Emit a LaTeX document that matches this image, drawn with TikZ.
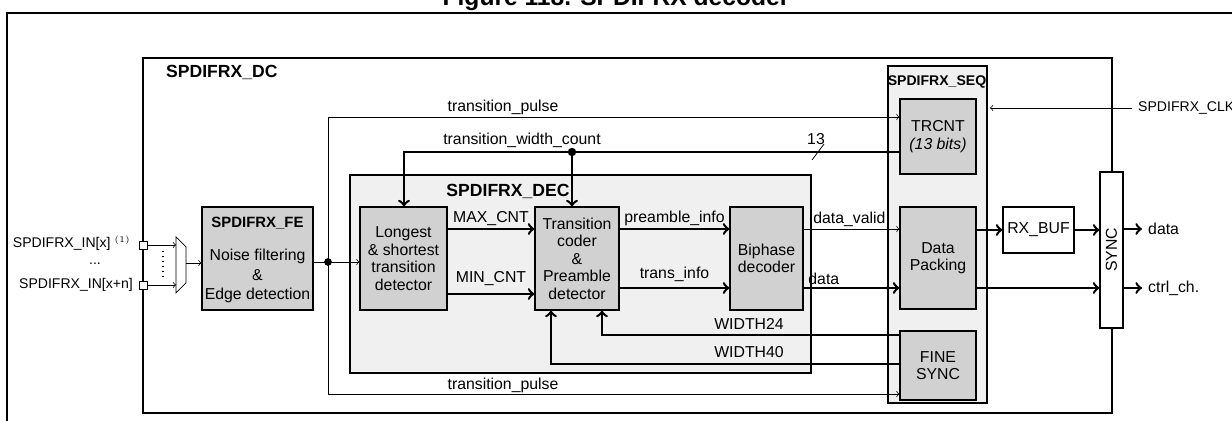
\documentclass[tikz,border=0pt]{standalone}
\usepackage{fontspec}
\setmainfont{Liberation Sans}
\usetikzlibrary{arrows,positioning,shapes}
\begin{document}
\begin{tikzpicture}[x=0.02cm,y=-0.02cm,>=to,font=\fontsize{9}{10}\selectfont,
  blk/.style={draw,fill=black!18,line width=0.6pt,inner sep=0pt,align=center},
  wire/.style={->,line width=0.4pt},
  bus/.style={->,line width=1.4pt},
  lbl/.style={inner sep=1pt}]
\useasboundingbox (0,0) rectangle (1232,421);

% title and frame
\node[font=\bfseries\fontsize{14}{16}\selectfont] at (616,-1) {Figure 118. SPDIFRX decoder};
\draw[line width=1.2pt] (7,421) -- (7,13) -- (1232,13);

% outer blocks
\draw[line width=1.2pt] (143,58) rectangle (1112,413);
\node[font=\bfseries\fontsize{10}{12}\selectfont,anchor=west] at (160,72) {SPDIFRX\_DC};
\draw[line width=1.2pt,fill=black!6] (350,175) rectangle (811,373);
\node[font=\bfseries\fontsize{10}{12}\selectfont] at (508,191) {SPDIFRX\_DEC};
\draw[line width=1.2pt,fill=black!6] (888,66) rectangle (987,403);
\node[font=\bfseries\fontsize{8}{10}\selectfont] at (937,82) {SPDIFRX\_SEQ};

% blocks
\node[blk,minimum width=111*0.02cm,minimum height=103*0.02cm] (fe) at (257.5,258.5) {};
\node[font=\bfseries\fontsize{8.5}{10}\selectfont] at (257.5,223) {SPDIFRX\_FE};
\node[align=center,font=\fontsize{9}{11}\selectfont] at (257.5,276) {Noise filtering\\\&\\Edge detection};
\coordinate (feout) at (313,262);
\node[blk,minimum width=87*0.02cm,minimum height=103*0.02cm] (lsd) at (403.5,258.5) {Longest\\\& shortest\\transition\\detector};
\node[blk,minimum width=84*0.02cm,minimum height=103*0.02cm] (tcd) at (577,258.5) {Transition\\coder\\\&\\Preamble\\detector};
\node[blk,minimum width=73*0.02cm,minimum height=103*0.02cm] (bip) at (766.5,258.5) {Biphase\\decoder};
\node[blk,minimum width=76*0.02cm,minimum height=75*0.02cm] (trc) at (938,136.5) {TRCNT\\\textit{(13 bits)}};
\node[blk,minimum width=76*0.02cm,minimum height=102*0.02cm] (pack) at (938,258) {Data\\Packing};
\node[blk,minimum width=76*0.02cm,minimum height=69*0.02cm] (fine) at (938,365.5) {FINE\\SYNC};
\node[blk,fill=white,minimum width=71*0.02cm,minimum height=46*0.02cm] (rxbuf) at (1038.5,230) {RX\_BUF};
\node[draw,fill=white,line width=0.6pt,minimum width=156*0.02cm,minimum height=23*0.02cm,rotate=90,inner sep=0pt] (sync) at (1111.5,250) {SYNC};

% inputs and mux
\node[draw,fill=white,minimum size=8*0.02cm,inner sep=0pt] (in1) at (143,245) {};
\node[draw,fill=white,minimum size=8*0.02cm,inner sep=0pt] (in2) at (143,285) {};
\node[anchor=east,font=\fontsize{8}{9}\selectfont] at (137,243) {SPDIFRX\_IN[x] $^{\scriptscriptstyle(1)}$};
\node[font=\fontsize{8}{9}\selectfont] at (95,264) {...};
\node[anchor=east,font=\fontsize{8}{9}\selectfont] at (139,285) {SPDIFRX\_IN[x+n]};
\draw (176,237) -- (186,247) -- (186,283) -- (176,293) -- cycle;
\coordinate (mux1) at (176,245); \coordinate (mux2) at (176,285);
\coordinate (muxo) at (186,263);
\draw[wire] (in1) -- (mux1);
\draw[wire] (in2) -- (mux2);
\draw[dotted,line width=0.8pt] (163,251) -- (163,279);
\draw[wire] (muxo) -- (fe.west |- muxo);

% FE to DEC, transition pulses
\fill (328,262) circle (2.2pt) coordinate (tp);
\draw[wire] (feout) -- (lsd.west |- feout);
\draw[wire] (tp) |- (trc.west |- 0,117);
\draw[wire] (tp) |- (fine.west |- 0,394);
\node[lbl] at (503,107) {transition\_pulse};
\node[lbl] at (503,385) {transition\_pulse};

% width count bus
\coordinate (twc) at (572,152);
\draw[bus] (trc.west |- twc) -| (lsd.north -| 404,0);
\fill (twc) circle (2.4pt);
\draw[bus] (twc) -- (tcd.north -| twc);
\node[lbl] at (522,140) {transition\_width\_count};
\draw (812,160) -- (824,144);
\node[lbl] at (816,139) {13};

% decoder paths
\draw[bus] (lsd.east |- 0,229) -- (tcd.west |- 0,229) node[midway,above,lbl] {MAX\_CNT};
\draw[bus] (lsd.east |- 0,294) -- (tcd.west |- 0,294) node[midway,above=3pt,lbl] {MIN\_CNT};
\draw[bus] (tcd.east |- 0,229) -- (bip.west |- 0,229) node[midway,above,lbl] {preamble\_info};
\draw[bus] (tcd.east |- 0,288) -- (bip.west |- 0,288) node[midway,above=2pt,lbl] {trans\_info};
\draw[wire] (bip.east |- 0,229) -- (pack.west |- 0,229) node[pos=0.08,above,anchor=south west,lbl] {data\_valid};
\draw[bus] (bip.east |- 0,288) -- (pack.west |- 0,288) node[pos=0.02,above,anchor=south west,lbl] {data};
\draw[bus] (fine.west |- 0,335) -| (tcd.south -| 602,0);
\draw[bus] (fine.west |- 0,364) -| (tcd.south -| 551,0);
\node[lbl] at (749,324) {WIDTH24};
\node[lbl] at (749,352) {WIDTH40};

% outputs
\draw[bus] (pack.east |- rxbuf) -- (rxbuf);
\draw[bus] (rxbuf) -- (sync.north |- rxbuf);
\draw[bus] (pack.east |- 0,288) -- (sync.north |- 0,288);
\coordinate (od) at (1142,229); \coordinate (oc) at (1142,288);
\draw[bus] (sync.south |- od) -- (od);
\draw[bus] (sync.south |- oc) -- (oc);
\node[anchor=west] at (od) {data};
\node[anchor=west] at (oc) {ctrl\_ch.};
\coordinate (clk) at (1132,108);
\draw[wire] (clk) -- (990,108);
\node[anchor=west,font=\fontsize{8}{9}\selectfont] at (clk) {SPDIFRX\_CLK};
\end{tikzpicture}
\end{document}
